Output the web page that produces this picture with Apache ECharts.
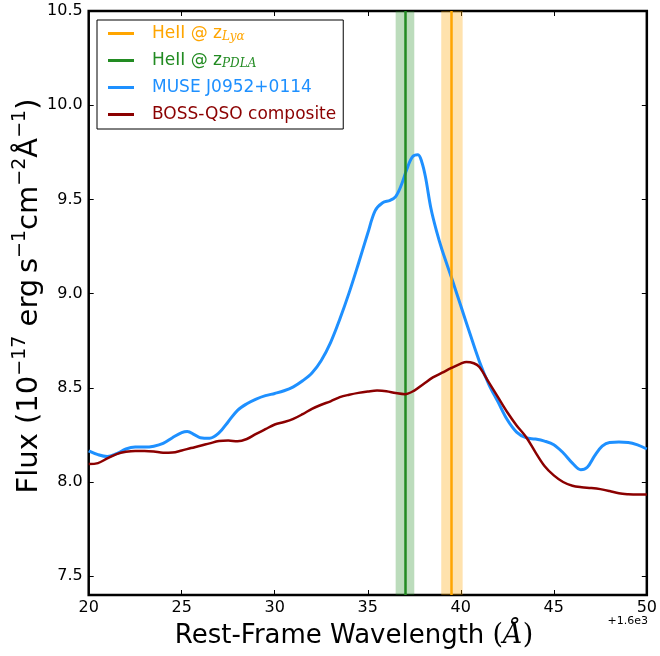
<!DOCTYPE html>
<html>
<head>
<meta charset="utf-8">
<script src="https://cdn.jsdelivr.net/npm/echarts@6/dist/echarts.min.js"></script>
<style>
html,body{margin:0;padding:0;background:#fff;}
#chart{width:660px;height:656px;}
</style>
</head>
<body>
<div id="chart"></div>
<script>
// ---- data (rest-frame wavelength offset from 1600 Å, flux in 1e-17 erg/s/cm2/Å) ----
const museWave = [20.0,20.5,21.0,21.5,22.0,22.5,23.0,23.5,24.0,24.5,25.0,25.3,25.7,26.0,26.5,27.0,27.5,28.0,28.5,29.0,29.5,30.0,30.5,31.0,31.5,32.0,32.5,33.0,33.5,34.0,34.5,35.0,35.4,35.8,36.2,36.5,36.8,37.1,37.4,37.7,37.9,38.1,38.4,38.7,39.0,39.5,40.0,40.5,41.0,41.5,42.0,42.5,43.0,43.5,44.0,44.5,45.0,45.5,46.0,46.45,46.8,47.2,47.6,48.0,48.5,49.0,49.5,50.0];
const museFlux = [8.165,8.145,8.135,8.15,8.175,8.185,8.185,8.19,8.205,8.235,8.262,8.268,8.25,8.235,8.232,8.26,8.32,8.38,8.415,8.44,8.458,8.47,8.484,8.505,8.537,8.578,8.645,8.74,8.865,9.005,9.16,9.32,9.44,9.482,9.495,9.515,9.575,9.66,9.726,9.737,9.70,9.62,9.45,9.33,9.23,9.085,8.935,8.785,8.64,8.52,8.425,8.33,8.265,8.235,8.228,8.217,8.198,8.155,8.10,8.065,8.078,8.14,8.19,8.21,8.212,8.21,8.197,8.175];
const bossWave = [20.0,20.5,21.0,21.5,22.0,22.5,23.0,23.5,24.0,24.5,25.0,25.5,26.0,26.5,27.0,27.5,28.0,28.5,29.0,29.5,30.0,30.5,31.0,31.5,32.0,32.5,33.0,33.5,34.0,34.5,35.0,35.5,36.0,36.5,37.0,37.5,38.0,38.5,39.0,39.5,40.0,40.3,40.7,41.0,41.5,42.0,42.5,43.0,43.5,44.0,44.5,45.0,45.5,46.0,46.5,47.0,47.5,48.0,48.5,49.0,49.5,50.0];
const bossFlux = [8.095,8.10,8.125,8.148,8.16,8.165,8.165,8.162,8.155,8.156,8.167,8.18,8.192,8.205,8.217,8.22,8.216,8.228,8.255,8.28,8.305,8.318,8.335,8.36,8.388,8.41,8.428,8.45,8.463,8.473,8.48,8.485,8.482,8.472,8.466,8.485,8.52,8.555,8.58,8.605,8.628,8.637,8.63,8.61,8.53,8.45,8.37,8.30,8.24,8.16,8.085,8.035,8.00,7.98,7.972,7.968,7.962,7.952,7.94,7.935,7.933,7.933];
const heIILya = 39.5;
const heIILyaRange = [38.95, 40.1];
const heIIPdla = 37.0;
const heIIPdlaRange = [36.5, 37.5];
const seriesNames = ['HeII @ z_Lya', 'HeII @ z_PDLA', 'MUSE J0952+0114', 'BOSS-QSO composite'];
const xTicks = [20, 25, 30, 35, 40, 45, 50];
const yTicks = [7.5, 8.0, 8.5, 9.0, 9.5, 10.0, 10.5];
const xMin = 20, xMax = 50, yMin = 7.4, yMax = 10.5;

const C_ORANGE = '#FFA500', C_GREEN = '#228B22', C_BLUE = '#1E90FF', C_RED = '#8B0000';
const FONT = 'DejaVu Sans';

const zip = (a, b) => a.map((v, i) => [v, b[i]]);

const chart = echarts.init(document.getElementById('chart'), null, {renderer: 'canvas'});

const axisCommon = {
  type: 'value',
  axisLine: {show: false},
  splitLine: {show: false},
  axisTick: {show: true, inside: true, length: 5, lineStyle: {color: '#000', width: 1}}
};

const option = {
  backgroundColor: '#fff',
  animation: false,
  grid: {left: 88.7, right: 11, top: 11, bottom: 61, show: true, borderColor: '#000', borderWidth: 2.5, backgroundColor: 'transparent'},
  xAxis: [
    Object.assign({}, axisCommon, {
      min: xMin, max: xMax, interval: 5, position: 'bottom',
      axisLabel: {show: true, fontSize: 16, color: '#000', fontFamily: FONT, margin: 5,
                  customValues: xTicks, formatter: v => String(v)},
      axisTick: Object.assign({}, axisCommon.axisTick, {customValues: xTicks})
    }),
    Object.assign({}, axisCommon, {
      min: xMin, max: xMax, interval: 5, position: 'top',
      axisLabel: {show: false},
      axisTick: Object.assign({}, axisCommon.axisTick, {customValues: xTicks})
    })
  ],
  yAxis: [
    Object.assign({}, axisCommon, {
      min: yMin, max: yMax, position: 'left',
      axisLabel: {show: true, fontSize: 16, color: '#000', fontFamily: FONT, margin: 6,
                  customValues: yTicks, formatter: v => v.toFixed(1)},
      axisTick: Object.assign({}, axisCommon.axisTick, {customValues: yTicks})
    }),
    Object.assign({}, axisCommon, {
      min: yMin, max: yMax, position: 'right',
      axisLabel: {show: false},
      axisTick: Object.assign({}, axisCommon.axisTick, {customValues: yTicks})
    })
  ],
  legend: {
    orient: 'vertical',
    left: 97, top: 20,
    padding: [4, 7, 5, 11],
    backgroundColor: '#fff',
    borderColor: '#000', borderWidth: 1, borderRadius: 0,
    itemWidth: 26, itemHeight: 3, itemGap: 8, icon: 'rect',
    data: [
      {name: seriesNames[0], textStyle: {color: C_ORANGE}},
      {name: seriesNames[1], textStyle: {color: C_GREEN}},
      {name: seriesNames[2], textStyle: {color: C_BLUE}},
      {name: seriesNames[3], textStyle: {color: C_RED}}
    ],
    textStyle: {
      fontSize: 17, fontFamily: FONT, lineHeight: 19, padding: [0, 0, 0, 13],
      rich: {
        subO: {fontSize: 12, fontFamily: 'DejaVu Serif', fontStyle: 'italic', color: C_ORANGE, verticalAlign: 'bottom', padding: [8,0,0,0]},
        subG: {fontSize: 12, fontFamily: 'DejaVu Serif', fontStyle: 'italic', color: C_GREEN, verticalAlign: 'bottom', padding: [8,0,0,0]}
      }
    },
    itemStyle: {borderWidth: 0},
    formatter: function (name) {
      if (name === seriesNames[0]) return 'HeII @ z{subO|Lyα}';
      if (name === seriesNames[1]) return 'HeII @ z{subG|PDLA}';
      return name;
    }
  },
  series: [
    {
      name: seriesNames[0], type: 'line', color: C_ORANGE, data: [], symbol: 'none',
      xAxisIndex: 0, yAxisIndex: 0, z: 2,
      lineStyle: {width: 2.5},
      markArea: {silent: true, itemStyle: {color: 'rgba(255,165,0,0.32)'},
                 data: [[{xAxis: heIILyaRange[0]}, {xAxis: heIILyaRange[1]}]]},
      markLine: {silent: true, symbol: 'none', label: {show: false},
                 lineStyle: {color: C_ORANGE, width: 2.5, type: 'solid'},
                 data: [{xAxis: heIILya}]}
    },
    {
      name: seriesNames[1], type: 'line', color: C_GREEN, data: [], symbol: 'none',
      xAxisIndex: 0, yAxisIndex: 0, z: 2,
      lineStyle: {width: 2.5},
      markArea: {silent: true, itemStyle: {color: 'rgba(34,139,34,0.3)'},
                 data: [[{xAxis: heIIPdlaRange[0]}, {xAxis: heIIPdlaRange[1]}]]},
      markLine: {silent: true, symbol: 'none', label: {show: false},
                 lineStyle: {color: C_GREEN, width: 2.5, type: 'solid'},
                 data: [{xAxis: heIIPdla}]}
    },
    {
      name: seriesNames[2], type: 'line', color: C_BLUE, data: zip(museWave, museFlux),
      symbol: 'none', smooth: 0.35, z: 4,
      lineStyle: {width: 3, color: C_BLUE}
    },
    {
      name: seriesNames[3], type: 'line', color: C_RED, data: zip(bossWave, bossFlux),
      symbol: 'none', smooth: 0.35, z: 5,
      lineStyle: {width: 2.5, color: C_RED}
    }
  ],
  graphic: [
    {
      type: 'text', x: 354, y: 636, z: 10,
      style: {
        text: 'Rest-Frame Wavelength {p|(}{a|Å}{p|)}',
        fontSize: 26, fontFamily: FONT, fill: '#000',
        align: 'center', verticalAlign: 'middle',
        rich: {
          p: {fontSize: 27, fontFamily: 'DejaVu Serif', fill: '#000'},
          a: {fontSize: 27, fontFamily: 'DejaVu Serif', fontStyle: 'italic', fill: '#000'}
        }
      }
    },
    {
      type: 'text', x: 29, y: 296, rotation: Math.PI / 2, z: 10,
      style: {
        text: 'Flux (10{s|−17} erg\u2009s{s|−1}cm{s|−2}{a|Å}{s|−1})',
        fontSize: 29, fontFamily: FONT, fill: '#000', lineHeight: 37,
        align: 'center', verticalAlign: 'middle',
        rich: {
          s: {fontSize: 19, fontFamily: FONT, fill: '#000', verticalAlign: 'top', lineHeight: 37},
          a: {fontSize: 29, fontFamily: FONT, fill: '#000'}
        }
      }
    },
    {
      type: 'text', x: 648, y: 621, z: 10,
      style: {text: '+1.6e3', fontSize: 11, fontFamily: FONT, fill: '#000', align: 'right', verticalAlign: 'middle'}
    }
  ]
};

chart.setOption(option);
</script>
</body>
</html>
